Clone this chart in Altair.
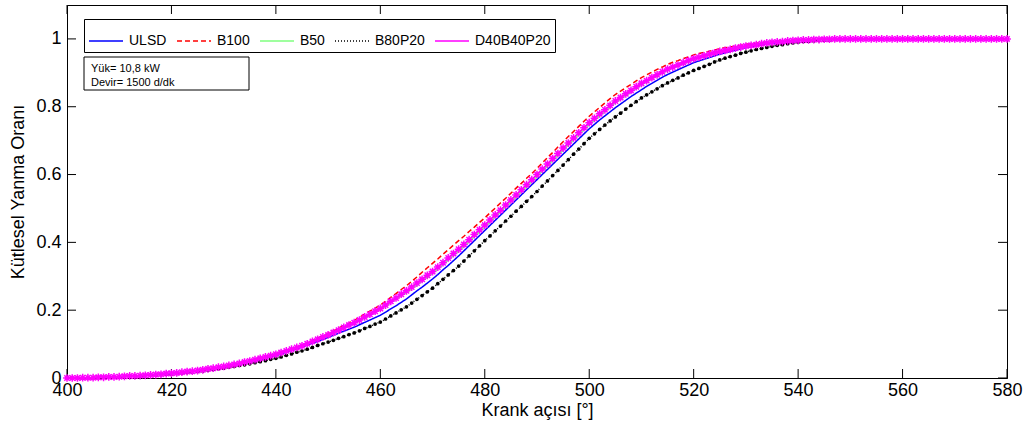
import altair as alt
import pandas as pd

# ---------------- data ----------------
deg = list(range(400, 581))

ulsd = [
    0.000, 0.000, 0.000, 0.001, 0.001, 0.001, 0.002, 0.002, 0.003, 0.003,
    0.004, 0.005, 0.005, 0.006, 0.007, 0.008, 0.009, 0.010, 0.011, 0.012,
    0.013, 0.014, 0.016, 0.017, 0.019, 0.021, 0.023, 0.025, 0.027, 0.030,
    0.032, 0.035, 0.038, 0.041, 0.044, 0.047, 0.051, 0.054, 0.058, 0.062,
    0.066, 0.071, 0.076, 0.081, 0.086, 0.091, 0.097, 0.103, 0.108, 0.114,
    0.120, 0.126, 0.132, 0.138, 0.144, 0.150, 0.157, 0.164, 0.171, 0.178,
    0.185, 0.194, 0.204, 0.213, 0.223, 0.233, 0.245, 0.257, 0.268, 0.280,
    0.292, 0.305, 0.319, 0.332, 0.346, 0.360, 0.375, 0.390, 0.405, 0.420,
    0.435, 0.450, 0.465, 0.480, 0.495, 0.510, 0.525, 0.540, 0.555, 0.570,
    0.585, 0.600, 0.615, 0.630, 0.645, 0.660, 0.675, 0.690, 0.705, 0.720,
    0.735, 0.748, 0.761, 0.773, 0.785, 0.797, 0.808, 0.819, 0.830, 0.840,
    0.850, 0.860, 0.869, 0.878, 0.887, 0.895, 0.902, 0.909, 0.916, 0.923,
    0.930, 0.935, 0.940, 0.945, 0.950, 0.955, 0.959, 0.963, 0.967, 0.971,
    0.974, 0.977, 0.980, 0.982, 0.985, 0.987, 0.989, 0.991, 0.993, 0.994,
    0.995, 0.996, 0.997, 0.997, 0.998, 0.998, 0.999, 0.999, 0.999, 1.000,
    1.000, 1.000, 1.000, 1.000, 1.000, 1.000, 1.000, 1.000, 1.000, 1.000,
    1.000, 1.000, 1.000, 1.000, 1.000, 1.000, 1.000, 1.000, 1.000, 1.000,
    1.000, 1.000, 1.000, 1.000, 1.000, 1.000, 1.000, 1.000, 1.000, 1.000,
    1.000,
]

b100 = [
    0.000, 0.000, 0.000, 0.001, 0.001, 0.001, 0.002, 0.002, 0.003, 0.003,
    0.004, 0.005, 0.006, 0.006, 0.007, 0.008, 0.009, 0.010, 0.011, 0.013,
    0.014, 0.015, 0.017, 0.019, 0.020, 0.022, 0.024, 0.027, 0.029, 0.032,
    0.034, 0.037, 0.040, 0.043, 0.047, 0.050, 0.054, 0.058, 0.062, 0.066,
    0.070, 0.075, 0.080, 0.086, 0.091, 0.097, 0.104, 0.111, 0.118, 0.125,
    0.132, 0.139, 0.147, 0.155, 0.162, 0.170, 0.179, 0.188, 0.197, 0.206,
    0.215, 0.226, 0.238, 0.249, 0.261, 0.272, 0.285, 0.298, 0.312, 0.325,
    0.338, 0.351, 0.365, 0.378, 0.392, 0.405, 0.418, 0.432, 0.445, 0.459,
    0.472, 0.487, 0.501, 0.516, 0.530, 0.545, 0.560, 0.574, 0.589, 0.603,
    0.618, 0.634, 0.650, 0.665, 0.681, 0.697, 0.712, 0.727, 0.742, 0.757,
    0.772, 0.785, 0.798, 0.811, 0.824, 0.836, 0.846, 0.856, 0.866, 0.876,
    0.886, 0.894, 0.902, 0.910, 0.917, 0.925, 0.931, 0.936, 0.942, 0.947,
    0.953, 0.957, 0.960, 0.964, 0.967, 0.971, 0.974, 0.976, 0.979, 0.981,
    0.984, 0.986, 0.987, 0.989, 0.990, 0.992, 0.993, 0.994, 0.995, 0.996,
    0.997, 0.997, 0.998, 0.998, 0.999, 0.999, 0.999, 1.000, 1.000, 1.000,
    1.000, 1.000, 1.000, 1.000, 1.000, 1.000, 1.000, 1.000, 1.000, 1.000,
    1.000, 1.000, 1.000, 1.000, 1.000, 1.000, 1.000, 1.000, 1.000, 1.000,
    1.000, 1.000, 1.000, 1.000, 1.000, 1.000, 1.000, 1.000, 1.000, 1.000,
    1.000,
]

b50 = [
    0.000, 0.000, 0.000, 0.001, 0.001, 0.001, 0.002, 0.002, 0.003, 0.003,
    0.004, 0.005, 0.005, 0.006, 0.007, 0.008, 0.009, 0.010, 0.011, 0.012,
    0.014, 0.015, 0.017, 0.018, 0.020, 0.022, 0.024, 0.026, 0.029, 0.031,
    0.034, 0.037, 0.040, 0.043, 0.046, 0.049, 0.053, 0.057, 0.061, 0.065,
    0.069, 0.074, 0.079, 0.084, 0.089, 0.094, 0.100, 0.106, 0.113, 0.119,
    0.125, 0.132, 0.139, 0.146, 0.154, 0.161, 0.169, 0.177, 0.185, 0.193,
    0.201, 0.211, 0.222, 0.232, 0.242, 0.252, 0.263, 0.274, 0.286, 0.297,
    0.308, 0.321, 0.334, 0.348, 0.361, 0.374, 0.388, 0.402, 0.417, 0.431,
    0.445, 0.460, 0.475, 0.490, 0.505, 0.519, 0.534, 0.549, 0.564, 0.579,
    0.594, 0.610, 0.625, 0.641, 0.656, 0.672, 0.687, 0.702, 0.717, 0.732,
    0.747, 0.760, 0.773, 0.786, 0.799, 0.812, 0.822, 0.833, 0.843, 0.854,
    0.864, 0.873, 0.882, 0.890, 0.899, 0.907, 0.914, 0.920, 0.927, 0.933,
    0.939, 0.944, 0.948, 0.953, 0.957, 0.961, 0.965, 0.968, 0.972, 0.975,
    0.978, 0.980, 0.983, 0.985, 0.988, 0.990, 0.991, 0.992, 0.994, 0.995,
    0.996, 0.997, 0.997, 0.998, 0.998, 0.999, 0.999, 1.000, 1.000, 1.000,
    1.000, 1.000, 1.000, 1.000, 1.000, 1.000, 1.000, 1.000, 1.000, 1.000,
    1.000, 1.000, 1.000, 1.000, 1.000, 1.000, 1.000, 1.000, 1.000, 1.000,
    1.000, 1.000, 1.000, 1.000, 1.000, 1.000, 1.000, 1.000, 1.000, 1.000,
    1.000,
]

b80p20 = [
    0.000, 0.000, 0.000, 0.000, 0.001, 0.001, 0.001, 0.002, 0.002, 0.003,
    0.003, 0.004, 0.005, 0.005, 0.006, 0.007, 0.008, 0.009, 0.010, 0.011,
    0.012, 0.013, 0.015, 0.016, 0.018, 0.019, 0.021, 0.023, 0.025, 0.027,
    0.029, 0.032, 0.034, 0.037, 0.039, 0.042, 0.045, 0.048, 0.051, 0.055,
    0.058, 0.062, 0.067, 0.071, 0.076, 0.080, 0.085, 0.090, 0.096, 0.101,
    0.106, 0.111, 0.117, 0.122, 0.128, 0.133, 0.139, 0.146, 0.152, 0.159,
    0.165, 0.174, 0.183, 0.192, 0.201, 0.210, 0.221, 0.232, 0.243, 0.254,
    0.265, 0.278, 0.291, 0.304, 0.317, 0.330, 0.345, 0.360, 0.375, 0.390,
    0.405, 0.419, 0.434, 0.448, 0.463, 0.477, 0.492, 0.506, 0.521, 0.535,
    0.550, 0.566, 0.581, 0.597, 0.612, 0.628, 0.644, 0.660, 0.675, 0.691,
    0.707, 0.720, 0.733, 0.746, 0.758, 0.770, 0.781, 0.793, 0.804, 0.815,
    0.826, 0.835, 0.844, 0.853, 0.862, 0.870, 0.878, 0.885, 0.893, 0.900,
    0.907, 0.913, 0.919, 0.925, 0.932, 0.938, 0.943, 0.948, 0.952, 0.957,
    0.961, 0.965, 0.969, 0.972, 0.975, 0.978, 0.981, 0.983, 0.986, 0.988,
    0.990, 0.992, 0.993, 0.994, 0.995, 0.996, 0.997, 0.998, 0.998, 0.999,
    0.999, 0.999, 1.000, 1.000, 1.000, 1.000, 1.000, 1.000, 1.000, 1.000,
    1.000, 1.000, 1.000, 1.000, 1.000, 1.000, 1.000, 1.000, 1.000, 1.000,
    1.000, 1.000, 1.000, 1.000, 1.000, 1.000, 1.000, 1.000, 1.000, 1.000,
    1.000,
]

d40b40p20 = [
    0.000, 0.000, 0.000, 0.001, 0.001, 0.001, 0.002, 0.002, 0.003, 0.003,
    0.004, 0.005, 0.006, 0.006, 0.007, 0.008, 0.009, 0.010, 0.011, 0.013,
    0.014, 0.015, 0.017, 0.019, 0.020, 0.022, 0.024, 0.027, 0.029, 0.032,
    0.034, 0.037, 0.040, 0.043, 0.047, 0.050, 0.054, 0.058, 0.062, 0.066,
    0.070, 0.075, 0.080, 0.085, 0.090, 0.095, 0.101, 0.108, 0.114, 0.121,
    0.127, 0.134, 0.141, 0.149, 0.156, 0.163, 0.171, 0.180, 0.188, 0.197,
    0.205, 0.215, 0.226, 0.236, 0.247, 0.257, 0.268, 0.280, 0.291, 0.303,
    0.314, 0.327, 0.340, 0.354, 0.367, 0.380, 0.394, 0.408, 0.423, 0.437,
    0.451, 0.466, 0.481, 0.495, 0.510, 0.525, 0.540, 0.555, 0.570, 0.585,
    0.600, 0.616, 0.631, 0.647, 0.662, 0.678, 0.693, 0.708, 0.723, 0.738,
    0.753, 0.766, 0.779, 0.791, 0.804, 0.817, 0.827, 0.838, 0.848, 0.859,
    0.869, 0.877, 0.886, 0.894, 0.903, 0.911, 0.917, 0.923, 0.930, 0.936,
    0.942, 0.946, 0.950, 0.955, 0.959, 0.963, 0.966, 0.969, 0.973, 0.976,
    0.979, 0.981, 0.983, 0.986, 0.988, 0.990, 0.991, 0.992, 0.994, 0.995,
    0.996, 0.997, 0.997, 0.998, 0.998, 0.999, 0.999, 1.000, 1.000, 1.000,
    1.000, 1.000, 1.000, 1.000, 1.000, 1.000, 1.000, 1.000, 1.000, 1.000,
    1.000, 1.000, 1.000, 1.000, 1.000, 1.000, 1.000, 1.000, 1.000, 1.000,
    1.000, 1.000, 1.000, 1.000, 1.000, 1.000, 1.000, 1.000, 1.000, 1.000,
    1.000,
]

series_names = ["ULSD", "B100", "B50", "B80P20", "D40B40P20"]
series_values = [ulsd, b100, b50, b80p20, d40b40p20]
series_colors = ["#0000FF", "#FF0000", "#80FF80", "#000000", "#FF00FF"]
series_dashes = [[1, 0], [5, 3], [1, 0], [1, 2], [1, 0]]

x_ticks = [400, 420, 440, 460, 480, 500, 520, 540, 560, 580]
y_ticks = [0, 0.2, 0.4, 0.6, 0.8, 1.0]

info_lines = ["Yük= 10,8 kW", "Devir= 1500 d/dk"]

# ---------------- tables ----------------
frames = []
for name, vals in zip(series_names, series_values):
    frames.append(pd.DataFrame({"deg": deg, "value": vals, "series": name}))
data = pd.concat(frames, ignore_index=True)

FONT = "Liberation Sans"
W, H = 940, 373

x_axis = alt.Axis(values=x_ticks, title="Krank açısı [°]", tickSize=0, grid=False,
                  labelFontSize=18, titleFontSize=18, labelPadding=3, titlePadding=2,
                  labelFont=FONT, titleFont=FONT, labelColor="black", titleColor="black",
                  titleFontWeight="normal", domainColor="black", labelFlush=False)
y_axis = alt.Axis(values=y_ticks, format=".1~f", title="Kütlesel Yanma Oranı", tickSize=0,
                  grid=False, labelFontSize=18, titleFontSize=18, labelPadding=6,
                  titlePadding=8, labelFont=FONT, titleFont=FONT, labelColor="black",
                  titleColor="black", titleFontWeight="normal", domainColor="black",
                  labelFlush=False)

x_scale = alt.Scale(domain=[400, 580], nice=False, zero=False)
y_scale = alt.Scale(domain=[0, 1.1], nice=False, zero=False)

X = alt.X("deg:Q", scale=x_scale, axis=x_axis)
Y = alt.Y("value:Q", scale=y_scale, axis=y_axis)

legend = alt.Legend(title=None, orient="none", legendX=17, legendY=14,
                    direction="horizontal", columns=5, symbolType="stroke",
                    symbolSize=1156, symbolStrokeWidth=1.5, labelFontSize=14,
                    labelFont=FONT, labelColor="black", labelOffset=5,
                    columnPadding=7, padding=4, strokeColor="black",
                    fillColor="white", symbolOffset=0)

lines = alt.Chart(data).mark_line(strokeWidth=1.5).encode(
    x=X, y=Y,
    color=alt.Color("series:N", scale=alt.Scale(domain=series_names, range=series_colors),
                    legend=legend),
    strokeDash=alt.StrokeDash("series:N",
                              scale=alt.Scale(domain=series_names, range=series_dashes),
                              legend=legend),
    order=alt.Order("deg:Q"),
)

black_pts = alt.Chart(data).transform_filter(alt.datum.series == "B80P20").mark_point(
    shape="circle", filled=True, size=14, color="black", opacity=1
).encode(x=X, y=Y)

asterisk = "M-1,0L1,0M0,-1L0,1M-0.7,-0.7L0.7,0.7M-0.7,0.7L0.7,-0.7"
mag_pts = alt.Chart(data).transform_filter(alt.datum.series == "D40B40P20").mark_point(
    shape=asterisk, filled=False, size=60, color="#FF00FF", strokeWidth=1.5, opacity=1
).encode(x=X, y=Y)

# inward tick marks (MATLAB style)
xt = pd.DataFrame({"deg": x_ticks})
yt = pd.DataFrame({"value": y_ticks})
tick_bottom = alt.Chart(xt).mark_rule(color="black", strokeWidth=1).encode(
    x=X, y=alt.value(H - 9), y2=alt.value(H))
tick_top = alt.Chart(xt).mark_rule(color="black", strokeWidth=1).encode(
    x=X, y=alt.value(0), y2=alt.value(9))
tick_left = alt.Chart(yt).mark_rule(color="black", strokeWidth=1).encode(
    y=Y, x=alt.value(0), x2=alt.value(9))
tick_right = alt.Chart(yt).mark_rule(color="black", strokeWidth=1).encode(
    y=Y, x=alt.value(W - 9), x2=alt.value(W))

# info box
one = pd.DataFrame({"k": [0]})
info_box = alt.Chart(one).mark_rect(
    fill="white", stroke="black", strokeWidth=1
).encode(x=alt.value(17), x2=alt.value(182), y=alt.value(52), y2=alt.value(85))
info_text1 = alt.Chart(one).mark_text(
    align="left", baseline="middle", fontSize=11, font=FONT, color="black",
    text=info_lines[0]
).encode(x=alt.value(24), y=alt.value(64))
info_text2 = alt.Chart(one).mark_text(
    align="left", baseline="middle", fontSize=11, font=FONT, color="black",
    text=info_lines[1]
).encode(x=alt.value(24), y=alt.value(78))

chart = alt.layer(
    tick_bottom, tick_top, tick_left, tick_right,
    lines, black_pts, mag_pts, info_box, info_text1, info_text2,
).properties(
    width=W, height=H,
    autosize="none",
    padding={"left": 67, "top": 5, "right": 23, "bottom": 52},
    background="white",
).configure_view(stroke="black", strokeWidth=1)

chart.save("out.html", embed_options={"renderer": "svg", "actions": False})
